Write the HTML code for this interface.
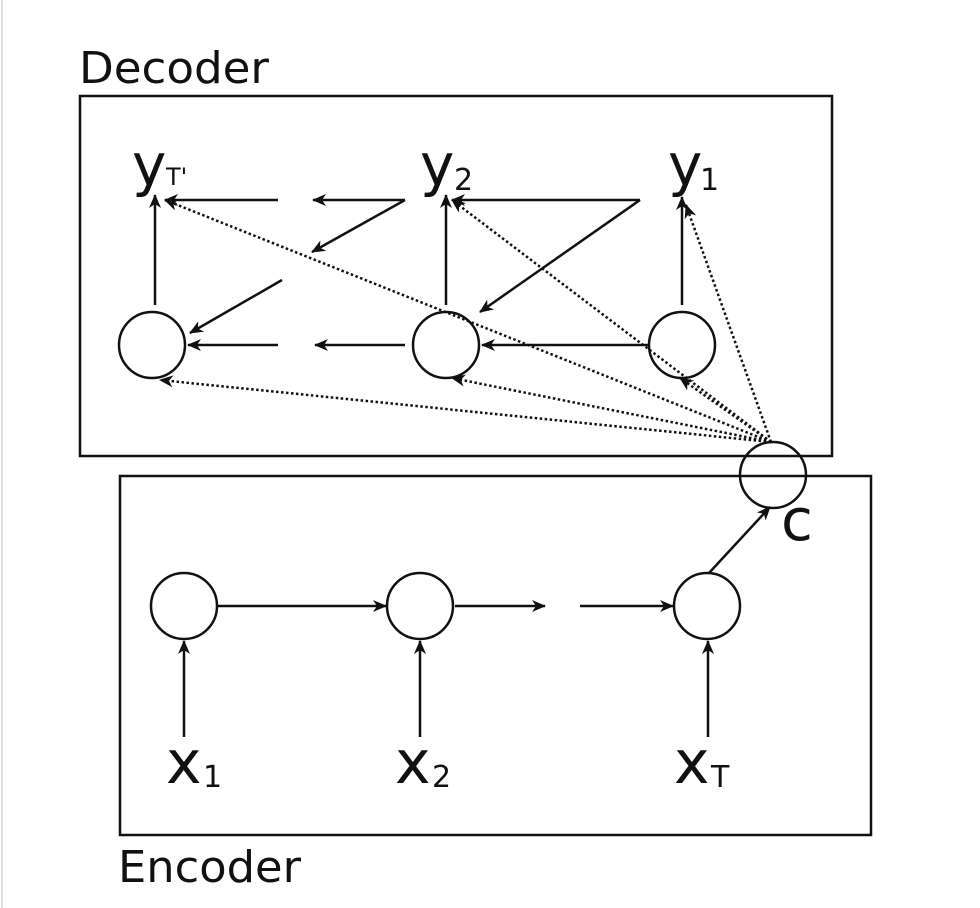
<!DOCTYPE html>
<html><head><meta charset="utf-8"><style>
html,body{margin:0;padding:0;background:#fff;}
svg{display:block;}
text{font-family:"DejaVu Sans","Liberation Sans",sans-serif;fill:#111;}
</style></head><body>
<svg width="980" height="908" viewBox="0 0 980 908" xmlns="http://www.w3.org/2000/svg">
<defs>
<marker id="a" markerWidth="14" markerHeight="12" refX="13" refY="6" orient="auto" markerUnits="userSpaceOnUse">
<path d="M0,0 L14,6 L0,12 L4,6 Z" fill="#111"/>
</marker>
</defs>
<line x1="2" y1="0" x2="2" y2="908" stroke="#ddd" stroke-width="2"/>
<text x="79" y="83" font-size="44" textLength="190" lengthAdjust="spacingAndGlyphs">Decoder</text>
<text x="118" y="882" font-size="44" textLength="183" lengthAdjust="spacingAndGlyphs">Encoder</text>
<g fill="none" stroke="#111" stroke-width="2.5">
<rect x="80" y="96" width="752" height="360"/>
<rect x="120" y="476" width="751" height="359"/>
<circle cx="152" cy="345" r="33"/>
<circle cx="446" cy="345" r="33"/>
<circle cx="682" cy="345" r="33"/>
<circle cx="773" cy="475" r="33"/>
<circle cx="184" cy="606" r="33"/>
<circle cx="420" cy="606" r="33"/>
<circle cx="707" cy="606" r="33"/>
</g>
<g stroke="#111" stroke-width="2.5" marker-end="url(#a)" fill="none">
<line x1="155" y1="305" x2="155" y2="195"/>
<line x1="446" y1="305" x2="446" y2="195"/>
<line x1="682" y1="305" x2="682" y2="197"/>
<line x1="640" y1="200" x2="452" y2="200"/>
<line x1="640" y1="200" x2="480" y2="312"/>
<line x1="405" y1="200" x2="313" y2="200"/>
<line x1="405" y1="200" x2="312" y2="252"/>
<line x1="278" y1="200" x2="165" y2="200"/>
<line x1="282" y1="280" x2="190" y2="333"/>
<line x1="648" y1="345" x2="482" y2="345"/>
<line x1="405" y1="345" x2="315" y2="345"/>
<line x1="278" y1="345" x2="188" y2="345"/>
<line x1="218" y1="606" x2="386" y2="606"/>
<line x1="455" y1="606" x2="545" y2="606"/>
<line x1="580" y1="606" x2="673" y2="606"/>
<line x1="709" y1="573" x2="770" y2="507"/>
<line x1="184" y1="737" x2="184" y2="641"/>
<line x1="420" y1="737" x2="420" y2="641"/>
<line x1="708" y1="737" x2="708" y2="641"/>
</g>
<g stroke="#111" stroke-width="2.5" stroke-dasharray="2.5,2.5" marker-end="url(#a)" fill="none">
<line x1="771" y1="442" x2="165" y2="200"/>
<line x1="771" y1="442" x2="452" y2="200"/>
<line x1="771" y1="442" x2="686" y2="205"/>
<line x1="771" y1="442" x2="160" y2="380"/>
<line x1="771" y1="442" x2="452" y2="378"/>
<line x1="771" y1="442" x2="680" y2="378"/>
</g>
<text x="132" y="185" font-size="58">y</text><text x="166" y="185" font-size="24">T'</text>
<text x="420" y="185" font-size="58">y</text><text x="454" y="190" font-size="30">2</text>
<text x="668" y="185" font-size="58">y</text><text x="700" y="190" font-size="30">1</text>
<text x="781" y="540" font-size="58">c</text>
<text x="166" y="783" font-size="60">x</text><text x="203" y="787" font-size="30">1</text>
<text x="395" y="783" font-size="60">x</text><text x="432" y="787" font-size="30">2</text>
<text x="674" y="783" font-size="60">x</text><text x="711" y="787" font-size="30">T</text>
</svg>
</body></html>
